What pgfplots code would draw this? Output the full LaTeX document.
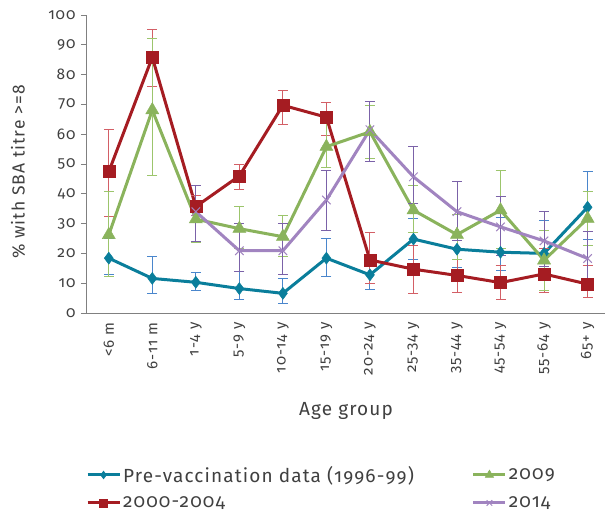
\documentclass[border=0pt]{standalone}
\usepackage{fontspec}
\setmainfont{Fira Sans}[Numbers=OldStyle, LetterSpace=6]
\usepackage{pgfplots}
\pgfplotsset{compat=1.18}
\definecolor{cblue}{HTML}{0A7E9B}
\definecolor{cred}{HTML}{A51C22}
\definecolor{cgreen}{HTML}{8AB35C}
\definecolor{cpurple}{HTML}{A184C0}
\definecolor{eblue}{HTML}{4A86CC}
\definecolor{ered}{HTML}{D35F66}
\definecolor{egreen}{HTML}{9CC56C}
\definecolor{epurple}{HTML}{7B62A8}
\definecolor{txt}{HTML}{404040}
\definecolor{axisgray}{HTML}{808080}
\begin{document}
\begin{tikzpicture}
\begin{axis}[
  at={(0,0)}, anchor=south west,
  scale only axis, width=518pt, height=298pt,
  xmin=-0.5, xmax=11.4, ymin=0, ymax=100,
  axis x line*=bottom, axis y line*=left,
  axis line style={draw=axisgray, line width=1pt},
  xtick={0,...,11},
  xticklabels={<6 m,6-11 m,1-4 y,5-9 y,10-14 y,15-19 y,20-24 y,25-34 y,35-44 y,45-54 y,55-64 y,65+ y},
  x tick label style={rotate=90, anchor=east, font=\fontsize{15}{17}\selectfont, text=txt},
  major x tick style={draw=none},
  ytick={0,10,...,100},
  y tick label style={font=\fontsize{15.5}{17}\selectfont, text=txt, xshift=-2pt},
  /pgf/number format/assume math mode=true,
  tick align=outside, major tick length=6pt,
  y tick style={draw=axisgray, line width=0.8pt},
  xlabel={Age group}, ylabel={\% with SBA titre >=8},
  every axis x label/.style={at={(axis description cs:0.5,-0.33)}, anchor=center, font=\fontsize{19}{22}\selectfont, text=txt},
  every axis y label/.style={at={(axis description cs:-0.133,0.473)}, anchor=center, rotate=90, font=\fontsize{17.5}{20}\selectfont, text=txt},
  legend style={at={(axis description cs:-0.008,-0.50)}, anchor=north west, draw=none, fill=none,
    font=\fontsize{19}{22}\selectfont, text=txt, row sep=9pt,
    /tikz/every even column/.append style={column sep=56pt}},
  legend cell align=left, legend columns=2, transpose legend,
  legend image code/.code={\draw[mark repeat=2,mark phase=2, /tikz/every mark/.append style={scale=0.65}] plot coordinates {(0pt,0pt) (16pt,0pt) (32pt,0pt)};},
  error bars/y dir=both, error bars/y explicit,
]
% Pre-vaccination
\addplot[cblue, line width=3pt, mark=diamond*, mark size=6pt, mark options={solid, line width=0.5pt},
  error bars/error bar style={eblue, line width=1pt}, error bars/error mark options={eblue, line width=1pt, mark size=5pt, rotate=90}]
coordinates {
(0,18.4) +=(0,6.6) -=(0,5.6)
(1,11.6) +=(0,7.3) -=(0,5.2)
(2,10.3) +=(0,3.2) -=(0,2.6)
(3,8.2) +=(0,5.7) -=(0,3.8)
(4,6.6) +=(0,5.0) -=(0,3.3)
(5,18.4) +=(0,6.6) -=(0,6.0)
(6,12.8) +=(0,5.0) -=(0,4.9)
(7,24.8) +=(0,7.0) -=(0,7.0)
(8,21.4) +=(0,6.0) -=(0,6.0)
(9,20.4) +=(0,11.6) -=(0,6.0)
(10,20.0) +=(0,11.0) -=(0,6.0)
(11,35.5) +=(0,11.9) -=(0,10.8)
};
\addlegendentry{Pre-vaccination data (1996-99)}
% 2000-2004
\addplot[cred, line width=3pt, mark=square*, mark size=6pt, mark options={solid, line width=0.5pt},
  error bars/error bar style={ered, line width=1pt}, error bars/error mark options={ered, line width=1pt, mark size=5pt, rotate=90}]
coordinates {
(0,47.4) +=(0,14.3) -=(0,15.1)
(1,85.8) +=(0,9.4) -=(0,9.8)
(2,35.7) +=(0,3.6) -=(0,3.0)
(3,46.0) +=(0,3.8) -=(0,4.4)
(4,69.7) +=(0,5.1) -=(0,6.5)
(5,65.7) +=(0,4.9) -=(0,6.3)
(6,17.8) +=(0,9.1) -=(0,8.0)
(7,14.7) +=(0,8.0) -=(0,8.1)
(8,12.6) +=(0,5.5) -=(0,5.7)
(9,10.2) +=(0,5.8) -=(0,5.8)
(10,13.1) +=(0,8.5) -=(0,6.3)
(11,9.7) +=(0,6.1) -=(0,4.6)
};
\addlegendentry{2000-2004}
% 2009
\addplot[cgreen, line width=3pt, mark=triangle*, mark size=7.5pt, mark options={solid, line width=0.5pt},
  error bars/error bar style={egreen, line width=1pt}, error bars/error mark options={egreen, line width=1pt, mark size=5pt, rotate=90}]
coordinates {
(0,26.2) +=(0,14.7) -=(0,14.0)
(1,68.1) +=(0,24.1) -=(0,22.1)
(2,31.5) +=(0,4.5) -=(0,8.0)
(3,28.3) +=(0,7.4) -=(0,6.5)
(4,25.6) +=(0,7.0) -=(0,6.7)
(5,55.8) +=(0,8.5) -=(0,7.0)
(6,60.8) +=(0,8.8) -=(0,8.8)
(7,34.5) +=(0,8.4) -=(0,7.5)
(8,26.3) +=(0,6.7) -=(0,8.3)
(9,34.5) +=(0,13.2) -=(0,12.8)
(10,17.7) +=(0,10.1) -=(0,10.2)
(11,31.7) +=(0,9.2) -=(0,8.9)
};
\addlegendentry{2009}
% 2014
\addplot[cpurple, line width=3pt, mark=x, mark size=6pt, mark options={solid, line width=1pt},
  error bars/error bar style={epurple, line width=1pt}, error bars/error mark options={epurple, line width=1pt, mark size=5pt, rotate=90}]
coordinates {
(2,34.0) +=(0,8.8) -=(0,10.1)
(3,20.9) +=(0,9.1) -=(0,7.0)
(4,20.9) +=(0,9.1) -=(0,8.1)
(5,37.9) +=(0,9.9) -=(0,10.1)
(6,61.5) +=(0,9.4) -=(0,10.6)
(7,45.7) +=(0,10.1) -=(0,9.1)
(8,34.0) +=(0,10.1) -=(0,9.6)
(9,28.9) +=(0,10.1) -=(0,9.5)
(10,24.2) +=(0,9.8) -=(0,8.7)
(11,18.3) +=(0,9.0) -=(0,7.8)
};
\addlegendentry{2014}
\end{axis}
\pgfresetboundingbox
\path (-87pt,-201pt) rectangle (518pt,313pt);
\end{tikzpicture}
\end{document}
